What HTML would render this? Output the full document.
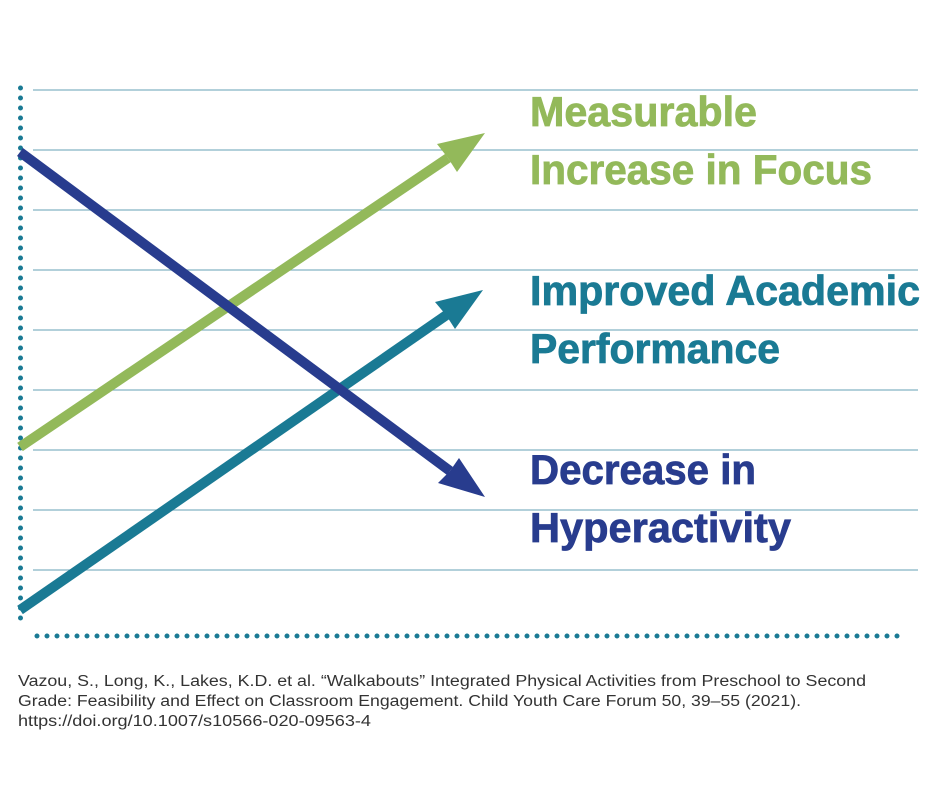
<!DOCTYPE html>
<html><head><meta charset="utf-8"><style>
html,body{margin:0;padding:0;background:#fff;}
svg{display:block;}
</style></head><body>
<svg width="940" height="788" viewBox="0 0 940 788" xmlns="http://www.w3.org/2000/svg">
<g stroke="#84b4c4" stroke-width="1.3">
<line x1="33" y1="90" x2="918" y2="90"/><line x1="33" y1="150" x2="918" y2="150"/>
<line x1="33" y1="210" x2="918" y2="210"/><line x1="33" y1="270" x2="918" y2="270"/>
<line x1="33" y1="330" x2="918" y2="330"/><line x1="33" y1="390" x2="918" y2="390"/>
<line x1="33" y1="450" x2="918" y2="450"/><line x1="33" y1="510" x2="918" y2="510"/>
<line x1="33" y1="570" x2="918" y2="570"/>
</g>
<line x1="20.5" y1="88" x2="20.5" y2="625" stroke="#1a7a94" stroke-width="5" stroke-linecap="round" stroke-dasharray="0 10"/>
<line x1="37" y1="636" x2="906" y2="636" stroke="#1a7a94" stroke-width="5" stroke-linecap="round" stroke-dasharray="0 10"/>
<line x1="20" y1="447" x2="448" y2="158" stroke="#93b95a" stroke-width="10"/>
<polygon points="485,133 437,144 448,158 457,172" fill="#93b95a"/>
<line x1="20" y1="610" x2="448" y2="314" stroke="#1a7a94" stroke-width="10"/>
<polygon points="483,290 435,302 446,315 455,329" fill="#1a7a94"/>
<line x1="20" y1="152" x2="450" y2="471" stroke="#283c8e" stroke-width="10"/>
<polygon points="485,497 459,458 450,471 438,483" fill="#283c8e"/>
<g font-family="Liberation Sans, sans-serif" font-weight="bold" font-size="42" stroke-width="0.8">
<text x="530" y="126" fill="#93b95a" stroke="#93b95a" textLength="227" lengthAdjust="spacingAndGlyphs">Measurable</text>
<text x="530" y="184" fill="#93b95a" stroke="#93b95a" textLength="342" lengthAdjust="spacingAndGlyphs">Increase in Focus</text>
<text x="530" y="305" fill="#1a7a94" stroke="#1a7a94" textLength="390" lengthAdjust="spacingAndGlyphs">Improved Academic</text>
<text x="530" y="363" fill="#1a7a94" stroke="#1a7a94" textLength="250" lengthAdjust="spacingAndGlyphs">Performance</text>
<text x="530" y="484" fill="#283c8e" stroke="#283c8e" textLength="226" lengthAdjust="spacingAndGlyphs">Decrease in</text>
<text x="530" y="542" fill="#283c8e" stroke="#283c8e" textLength="261" lengthAdjust="spacingAndGlyphs">Hyperactivity</text>
</g>
<g font-family="Liberation Sans, sans-serif" font-size="15.5" fill="#333">
<text x="18" y="686" textLength="848" lengthAdjust="spacingAndGlyphs">Vazou, S., Long, K., Lakes, K.D. et al. “Walkabouts” Integrated Physical Activities from Preschool to Second</text>
<text x="18" y="706" textLength="783" lengthAdjust="spacingAndGlyphs">Grade: Feasibility and Effect on Classroom Engagement. Child Youth Care Forum 50, 39–55 (2021).</text>
<text x="18" y="726" textLength="353" lengthAdjust="spacingAndGlyphs">https://doi.org/10.1007/s10566-020-09563-4</text>
</g>
</svg>
</body></html>
